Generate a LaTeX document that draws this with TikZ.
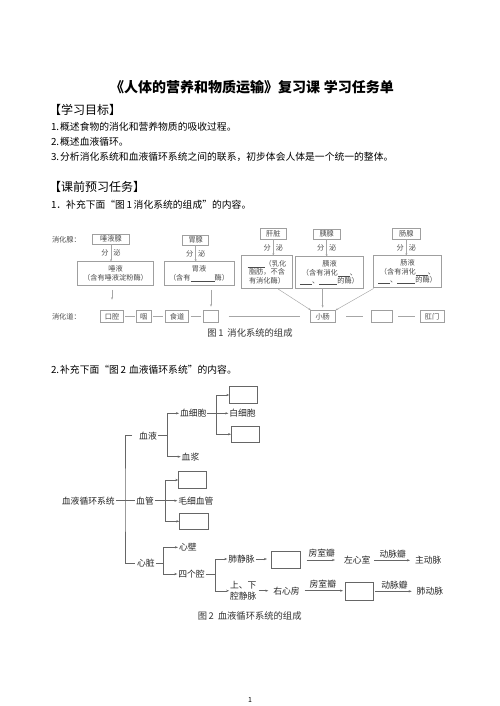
\documentclass[tikz,border=0pt]{standalone}
\usepackage{fontspec}
\setmainfont{Noto Sans CJK SC}
\usetikzlibrary{arrows.meta,calc}
\newcommand{\blk}[1]{\rule[-0.8pt]{#1pt}{0.4pt}}
\begin{document}
\begin{tikzpicture}[x=1pt,y=-1pt,
  every node/.style={inner sep=0pt, outer sep=0pt},
  body/.style={anchor=west, font=\fontsize{9.8}{12}\selectfont},
  head/.style={anchor=west, font=\fontsize{12}{14}\selectfont},
  fonebox/.style={draw=gray!75, line width=0.5pt, text=black!70, font=\fontsize{7.2}{9}\selectfont, align=center},
  fonethree/.style={fonebox, font=\fontsize{7.2}{8.5}\selectfont},
  fonetxt/.style={text=black!70, font=\fontsize{7.2}{9}\selectfont},
  foneline/.style={draw=gray!70, line width=0.45pt},
  fonearr/.style={foneline, -{Stealth[length=2.5pt,width=2pt]}},
  ftwotxt/.style={text=black!85, font=\fontsize{8.8}{11}\selectfont, inner sep=1pt},
  ftwobox/.style={draw=gray!80!black, line width=0.5pt},
  ftwoline/.style={draw=gray!80!black, line width=0.5pt},
  ftwoarr/.style={ftwoline, -{Stealth[length=3pt,width=2.2pt]}},
  captxt/.style={text=black!80, font=\fontsize{9.3}{11}\selectfont},
]
\useasboundingbox (0,0) rectangle (499,706);
\fill[white] (0,0) rectangle (499,706);

% ---------- header text ----------
\node[font=\fontsize{14}{16}\selectfont\bfseries] (title) at (252,87) {《人体的营养和物质运输》复习课\hspace{4pt}学习任务单};
\node[head] (h1) at (49,110) {【学习目标】};
\node[body] (l1) at (51,126.7) {1.\hspace{1pt}概述食物的消化和营养物质的吸收过程。};
\node[body] (l2) at (51,141.5) {2.\hspace{1pt}概述血液循环。};
\node[body] (l3) at (51,156.5) {3.\hspace{1pt}分析消化系统和血液循环系统之间的联系，初步体会人体是一个统一的整体。};
\node[head] (h2) at (49,186.7) {【课前预习任务】};
\node[body] (l4) at (51,205) {1．补充下面“图\,1\,消化系统的组成”的内容。};

% ---------- figure 1 ----------
\node[fonetxt, anchor=west] (lxhx) at (52,240) {消化腺：};
\node[fonetxt, anchor=west] (lxhd) at (52,316.7) {消化道：};

\node[fonebox, minimum width=36.6, minimum height=10.5] (sy) at (111,239) {唾液腺};
\node[fonebox, minimum width=75.6, minimum height=23.3] (tyy) at (115.5,273.3) {唾液\\（含有唾液淀粉酶）};
\node[fonebox, minimum width=26, minimum height=10.5] (wx) at (195.7,240) {胃腺};
\node[fonebox, minimum width=70, minimum height=23.3] (wy) at (199,273.3) {胃液\\（含有\blk{24}酶）};
\node[fonebox, minimum width=25.3, minimum height=10.7] (gz) at (273.3,233.7) {肝脏};
\node[fonethree, minimum width=50.6, minimum height=32.6] (dz) at (267,272) {\blk{17}（乳化\\脂肪，不含\\有消化酶）};
\node[fonebox, minimum width=26.7, minimum height=10.5] (yx) at (326.7,234) {胰腺};
\node[fonethree, minimum width=67.6, minimum height=31.6] (yy) at (329.5,272.5) {胰液\\（含有消化\blk{12}、\\\blk{12}、\blk{18}的酶）};
\node[fonebox, minimum width=27.3, minimum height=10.7] (cx) at (406.3,233.7) {肠腺};
\node[fonethree, minimum width=68.4, minimum height=32] (cy) at (407.5,271.7) {肠液\\（含有消化\blk{12}、\\\blk{12}、\blk{18}的酶）};

\foreach \a/\b in {sy/tyy, wx/wy, gz/dz, yx/yy, cx/cy}{
  \draw[fonearr] (\a.south) -- (\a.south |- \b.north);
  \node[fonetxt] at ($(\a.south)!0.5!(\a.south |- \b.north)$) {分\hspace{5pt}泌};
}

\node[fonebox, minimum width=22.6, minimum height=11.6] (kq) at (112,316.5) {口腔};
\node[fonebox, minimum width=14.3, minimum height=11.6] (yan) at (143.8,316.5) {咽};
\node[fonebox, minimum width=23.4, minimum height=11.6] (sd) at (177,316.5) {食道};
\node[fonebox, minimum width=15.4, minimum height=11.6] (wei) at (211,316.5) {};
\node[fonebox, minimum width=25.3, minimum height=11.6] (xc) at (322.7,316.5) {小肠};
\node[fonebox, minimum width=21.3, minimum height=11.6] (dc) at (381.7,316.5) {};
\node[fonebox, minimum width=24, minimum height=11.6] (gm) at (432,316.5) {肛门};

\draw[foneline, shorten <=2pt, shorten >=2pt] (kq) -- (yan);
\draw[foneline, shorten <=2pt, shorten >=2pt] (yan) -- (sd);
\draw[foneline, shorten <=2pt, shorten >=2pt] (sd) -- (wei);
\draw[foneline, shorten <=10pt, shorten >=10pt] (wei) -- (xc);
\draw[foneline, shorten <=11pt, shorten >=8pt] (xc) -- (dc);
\draw[foneline, shorten <=6pt, shorten >=5pt] (dc) -- (gm);

\draw[fonearr, shorten <=5pt, shorten >=11pt] (tyy.south -| kq.north) -- (kq.north);
\draw[fonearr, shorten <=5pt, shorten >=4pt] (wy.south -| wei.north) -- (wei.north);
\draw[fonearr, shorten <=1.5pt, shorten >=1pt] ([xshift=10pt]dz.south) -- ([xshift=-11pt]xc.north);
\draw[fonearr, shorten >=3pt] (yy.south -| xc.north) -- (xc.north);
\draw[fonearr, shorten <=1.5pt, shorten >=1pt] ([xshift=-32.5pt]cy.south) -- ([xshift=12pt]xc.north);

\node[captxt] (cap1) at (250,333.3) {图\,1\hspace{4pt}消化系统的组成};

% ---------- figure 2 ----------
\node[body] (l5) at (51,370) {2.\hspace{1pt}补充下面“图\,2\hspace{3pt}血液循环系统”的内容。};

\node[ftwotxt] (xhxt) at (88.3,500.7) {血液循环系统};
\node[ftwotxt] (xy) at (148,435.7) {血液};
\node[ftwotxt] (xg) at (145,500.7) {血管};
\node[ftwotxt] (xz) at (145.8,563.3) {心脏};

\node[ftwotxt, anchor=west] (xxb) at (179,413.3) {血细胞};
\node[ftwotxt, anchor=west] (xj) at (180.7,456.7) {血浆};
\node[ftwobox, minimum width=28.4, minimum height=16.6] (bA) at (243.5,395) {};
\node[ftwotxt, anchor=west] (bxb) at (228.3,413.3) {白细胞};
\node[ftwobox, minimum width=28.3, minimum height=16.3] (bB) at (245.2,434.2) {};

\node[ftwobox, minimum width=28.4, minimum height=16.6] (bC) at (192.5,480) {};
\node[ftwotxt, anchor=west] (mxxg) at (177.3,500.7) {毛细血管};
\node[ftwobox, minimum width=29, minimum height=16] (bD) at (193.8,521.3) {};

\node[ftwotxt, anchor=west] (xb) at (178,547.3) {心壁};
\node[ftwotxt, anchor=west] (sgq) at (177.3,574) {四个腔};
\node[ftwotxt, anchor=west] (fjm) at (227.3,559) {肺静脉};
\node[ftwotxt, align=center, font=\fontsize{8.8}{11.7}\selectfont] (sxq) at (243.3,590.8) {上、下\\腔静脉};
\node[ftwobox, minimum width=29.7, minimum height=16.6] (bE) at (285.8,560) {};
\node[ftwotxt, anchor=west] (zxs) at (343,560.3) {左心室};
\node[ftwotxt, anchor=west] (zdm) at (414,560.5) {主动脉};
\node[ftwotxt, anchor=west] (yxf) at (272.3,590.7) {右心房};
\node[ftwobox, minimum width=28.3, minimum height=17.3] (bF) at (359.2,591.3) {};
\node[ftwotxt, anchor=west] (fdm) at (415.7,591.5) {肺动脉};

% main trunk
\coordinate (tr) at (125,500.7);
\draw[ftwoline] ([xshift=-6pt]xy.west) -| (tr) |- ([xshift=-1.5pt]xz.west);
\draw[ftwoline] (xhxt.east) -- (xg.west);
% blood
\coordinate (ba) at (167.7,435.7);
\draw[ftwoline] (xy.east) -- (ba);
\draw[ftwoarr] (ba) |- (xxb.west);
\draw[ftwoarr] (ba) |- (xj.west);
\coordinate (bb) at (216.7,413.3);
\draw[ftwoline] (xxb.east) -- (bb);
\draw[ftwoarr] (bb) |- (bA.west);
\draw[ftwoarr] (bb) -- (bxb.west);
\draw[ftwoarr] (bb) |- (bB.west);
% vessels
\coordinate (bc) at (165,500.7);
\draw[ftwoline] (xg.east) -- (bc);
\draw[ftwoarr] (bc) |- (bC.west);
\draw[ftwoarr] (bc) -- (mxxg.west);
\draw[ftwoarr] (bc) |- (bD.west);
% heart
\coordinate (bd) at (163.3,563.3);
\draw[ftwoline] (xz.east) -- (bd);
\draw[ftwoarr] (bd) |- (xb.west);
\draw[ftwoarr] (bd) |- (sgq.west);
\coordinate (be) at (215,574);
\draw[ftwoline] (sgq.east) -- (be);
\draw[ftwoarr] (be) |- (fjm.west);
\draw[ftwoarr] (be) |- (sxq.west);
% circulation rows
\draw[ftwoarr, shorten >=4pt] (fjm.east) -- (fjm.east -| bE.west);
\draw[ftwoarr, shorten <=6pt, shorten >=8pt] (bE.east) -- (bE.east -| zxs.west) node[midway, above=1.5pt, ftwotxt] {房室瓣};
\draw[ftwoarr, shorten <=3pt, shorten >=4pt] (zxs.east) -- (zxs.east -| zdm.west) node[midway, above=1.5pt, ftwotxt] {动脉瓣};
\draw[ftwoarr, shorten <=1pt, shorten >=4pt] (sxq.east |- yxf.west) -- (yxf.west);
\draw[ftwoarr, shorten <=4pt, shorten >=2pt] (yxf.east) -- (yxf.east -| bF.west) node[midway, above=1.5pt, ftwotxt] {房室瓣};
\draw[ftwoarr, shorten <=1.5pt, shorten >=4pt] (bF.east) -- (bF.east -| fdm.west) node[midway, above=1.5pt, ftwotxt] {动脉瓣};

\node[captxt] (cap2) at (249.7,615.7) {图\,2\hspace{4pt}血液循环系统的组成};

\node[font=\fontsize{7}{8}\selectfont] (pg) at (250,700) {1};
\end{tikzpicture}
\end{document}
